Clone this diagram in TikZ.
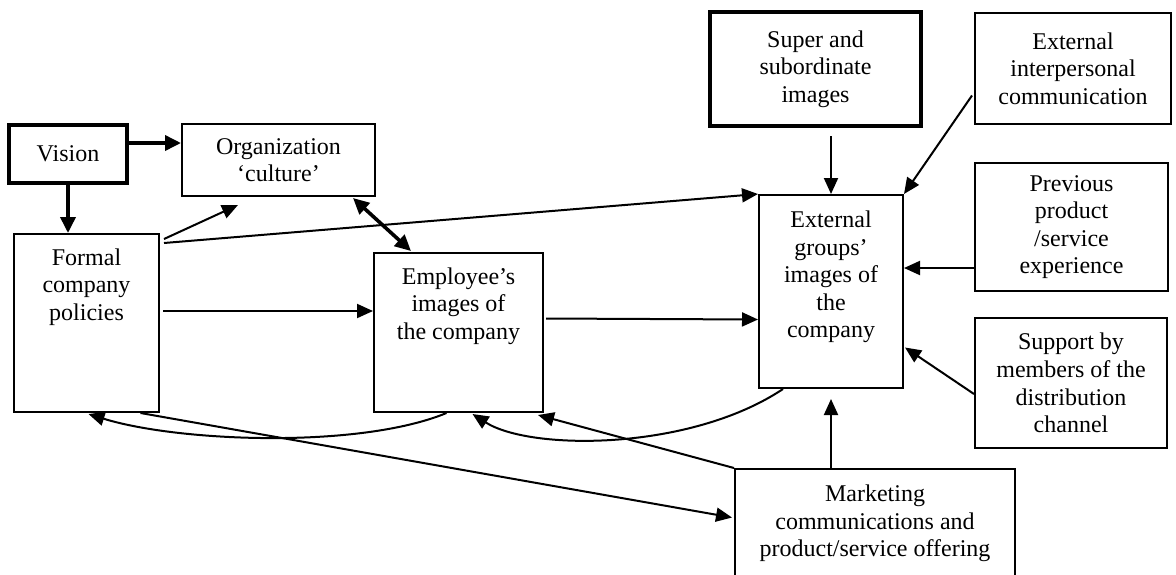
\documentclass[tikz,border=0pt]{standalone}
\usepackage{fontspec}
\setmainfont{Liberation Serif}
\usetikzlibrary{arrows.meta,positioning,calc}

\begin{document}
\begin{tikzpicture}[
  x=0.5pt, y=-0.5pt,
  every node/.style={font=\fontsize{12}{13.8}\selectfont},
  imgbox/.style={draw,line width=1pt,inner sep=0pt,align=center},
  keybox/.style={imgbox,line width=2pt},
  txt/.style={align=center,inner sep=0pt},
  link/.style={line width=1pt,-{Triangle[length=8pt,width=7pt]}},
  boldlink/.style={line width=1.8pt,-{Triangle[length=8pt,width=7.5pt]}},
]
  \useasboundingbox (0,0) rectangle (1176,574);

  % Inside the company
  \node[keybox,minimum width=59pt,minimum height=29pt] (vision) at (68,154) {Vision};
  \node[imgbox,minimum width=96.5pt,minimum height=36pt] (org) at (278.5,160)
    {Organization\\‘culture’};
  \node[imgbox,minimum width=72.5pt,minimum height=89pt] (formal) at (86.5,323) {};
  \node[txt] (formaltxt) at ($(formal.north)+(0,54)$) {Formal\\company\\policies};
  \node[imgbox,minimum width=84.5pt,minimum height=79.5pt] (employee) at (458.5,332.5) {};
  \node[txt] (employeetxt) at ($(employee.north)+(0,54)$) {Employee’s\\images of\\the company};

  % External images and their sources
  \node[imgbox,minimum width=72pt,minimum height=96.5pt] (ext) at (831,291.5) {};
  \node[txt] (exttxt) at ($(ext.north)+(0,83)$) {External\\groups’\\images of\\the\\company};
  \node[keybox,minimum width=105.5pt,minimum height=57pt] (super) at (815.5,69)
    {Super and\\subordinate\\images};
  \node[imgbox,minimum width=98pt,minimum height=55.5pt] (interp) at (1073,68.5)
    {External\\interpersonal\\communication};
  \node[imgbox,minimum width=96.5pt,minimum height=64pt] (prev) at (1071.5,227)
    {Previous\\product\\/service\\experience};
  \node[imgbox,minimum width=96pt,minimum height=65pt] (support) at (1071,383)
    {Support by\\members of the\\distribution\\channel};
  \node[imgbox,minimum width=140pt,minimum height=54.5pt] (mkt) at (875,523.5)
    {Marketing\\communications and\\product/service offering};

  % Helper points
  \coordinate (ve) at ($(vision.east)+(0,-11)$);
  \coordinate (fe) at ($(formal.east)+(3,-12)$);
  \coordinate (pe) at ($(prev.west)+(0,41)$);

  % Vision
  \draw[boldlink] (ve) -- (ve -| org.west);
  \draw[boldlink] (vision.south) -- (vision.south |- formal.north);
  \draw[{Triangle[length=8pt,width=7.5pt]}-{Triangle[length=8pt,width=7.5pt]},line width=1.8pt]
    ($(org.south east)+(-23,1)$) -- ($(employee.north west)+(38,-1)$);

  % Company policies
  \draw[link] ($(formal.north east)+(4,6)$) -- ($(org.south west)+(57,8)$);
  \draw[link] ($(formal.north east)+(4,10)$) -- (ext.north west);
  \draw[link] (fe) -- (fe -| employee.west);
  \draw[link] ($(formal.south)+(54,0)$) -- ($(mkt.west)+(-2,-6)$);

  % Into the external images
  \draw[link] ($(employee.east)+(2,-14)$) -- ($(ext.west)+(0,28)$);
  \draw[link] ($(ext.north)+(0,-58)$) -- (ext.north);
  \draw[link] ($(interp.west)+(-2,27)$) -- (ext.north east);
  \draw[link] (pe) -- (pe -| ext.east);
  \draw[link] ($(support.west)+(0,11)$) -- ($(ext.east)+(1,56)$);
  \draw[link] (ext.south |- mkt.north) -- ($(ext.south)+(0,10)$);

  % Feedback
  \draw[link] (mkt.north west) -- ($(employee.south east)+(-6,2)$);
  \draw[link] ($(ext.south)+(-48,0)$) .. controls +(-93,62) and +(58,37) ..
    ($(employee.south)+(14,1)$);
  \draw[link] ($(employee.south)+(-12,0)$) .. controls +(-87,36) and +(90,28) ..
    ($(formal.south)+(2,1)$);
\end{tikzpicture}
\end{document}
